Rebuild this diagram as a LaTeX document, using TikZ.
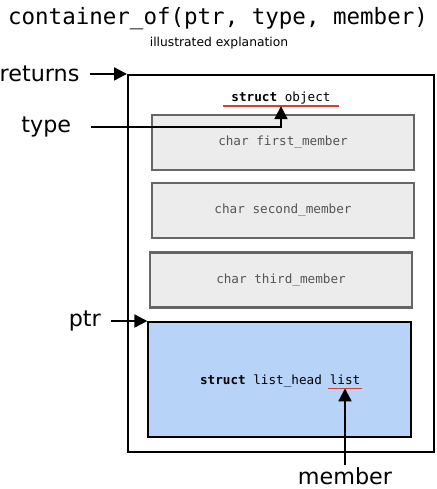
\documentclass[tikz,border=0pt]{standalone}
\usepackage{fontspec}
\setmainfont{DejaVu Sans}
\setmonofont{DejaVu Sans Mono}
\usetikzlibrary{arrows.meta, positioning}
\definecolor{fieldfill}{HTML}{ECECEC}
\definecolor{fielddraw}{HTML}{666666}
\definecolor{fieldtext}{HTML}{555555}
\definecolor{listfill}{HTML}{B8D3F8}
\definecolor{markred}{HTML}{DB3B3B}
\tikzset{
  objbox/.style={rectangle, draw, line width=1.8pt, minimum width=9.18cm,
    minimum height=11.31cm},
  field/.style={rectangle, draw=fielddraw, line width=1.8pt, fill=fieldfill,
    minimum width=7.86cm, minimum height=1.65cm,
    font=\ttfamily\fontsize{10.8}{13}\selectfont, text=fieldtext},
  listbox/.style={rectangle, draw, line width=1.8pt, fill=listfill,
    minimum width=7.88cm, minimum height=3.44cm},
  codeword/.style={font=\ttfamily\fontsize{10.8}{13}\selectfont,
    inner ysep=0pt, text depth=3.6pt},
  pname/.style={font=\fontsize{19}{22}\selectfont, inner sep=0pt, outer xsep=9pt},
  arr/.style={-{Triangle[length=11pt,width=11pt]}, line width=1.8pt},
  uline/.style={markred, line width=1.6pt},
}

\begin{document}
\begin{tikzpicture}[x=0.03cm, y=-0.03cm]
  \useasboundingbox (0,0) rectangle (436,489);

  % Heading
  \node[anchor=base, font=\ttfamily\fontsize{19.2}{22}\selectfont] (title) at (218,25)
    {container\_of(ptr, type, member)};
  \node[anchor=base, font=\fontsize{10.5}{12}\selectfont] (subtitle) at (219,47)
    {illustrated explanation};

  % Containing struct
  \node[objbox] (outer) at (281,263.5) {};
  \node[codeword, anchor=base, minimum width=3.47cm] (sobj) at (281,101.7)
    {\textbf{struct} object};
  \node[field] (first) at (283,142.5) {char first\_member};
  \node[field] (second) at (283,210.5) {char second\_member};
  \node[field] (third) at (281,280) {char third\_member};
  \node[listbox] (head) at (279.7,379.4) {};
  \node[codeword, anchor=base, inner xsep=1pt] (lst) at (345,384) {list};
  \node[codeword, base left=5.3pt of lst, inner xsep=0pt] (lhead)
    {\textbf{struct} list\_head};

  % Macro arguments
  \node[pname, left=1.11cm of outer.north west] (returns) {returns};
  \node[pname, outer xsep=17pt, anchor=east] (type) at (91,127) {type};
  \node[pname, left=1.08cm of head.north west] (ptr) {ptr};
  \node[pname, outer ysep=2pt, below=2.31cm of lst] (member) {member};

  % Underlines
  \draw[uline] (sobj.south west) -- (sobj.south east);
  \draw[uline] (lst.south west) -- (lst.south east);

  % Connections
  \draw[arr] (returns.east) -- (outer.north west);
  \draw[arr] (type.east) -| (sobj.south);
  \draw[arr] (ptr.east) -- (head.north west);
  \draw[arr] (member.north) -- (lst.south);
\end{tikzpicture}
\end{document}
